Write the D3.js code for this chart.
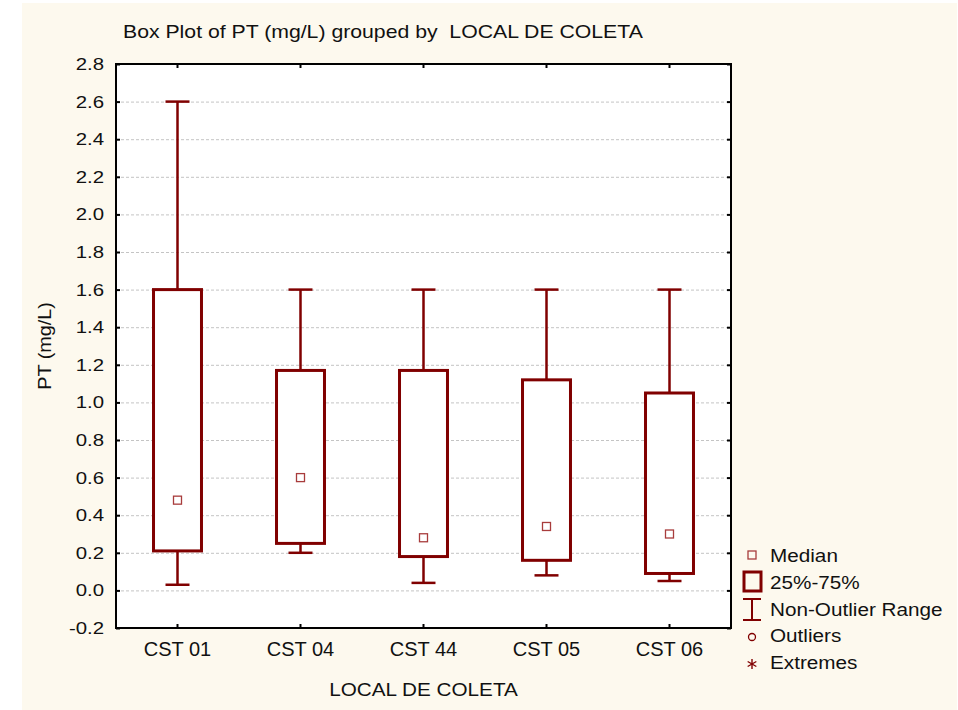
<!DOCTYPE html>
<html>
<head>
<meta charset="utf-8">
<script src="https://cdn.jsdelivr.net/npm/d3@7/dist/d3.min.js"></script>
<style>
  body { margin: 0; background: #ffffff; }
  text { font-family: "Liberation Sans", Arial, sans-serif; fill: #111; white-space: pre; }
</style>
</head>
<body>
<svg id="chart" width="958" height="710"></svg>
<script>
// values
const categories = ["CST 01", "CST 04", "CST 44", "CST 05", "CST 06"];
const minVals    = [0.03, 0.20, 0.04, 0.08, 0.05];
const q1Vals     = [0.21, 0.25, 0.18, 0.16, 0.09];
const medianVals = [0.48, 0.60, 0.28, 0.34, 0.30];
const q3Vals     = [1.60, 1.17, 1.17, 1.12, 1.05];
const maxVals    = [2.60, 1.60, 1.60, 1.60, 1.60];
const yTickVals  = [-0.2, 0.0, 0.2, 0.4, 0.6, 0.8, 1.0, 1.2, 1.4, 1.6, 1.8, 2.0, 2.2, 2.4, 2.6, 2.8];
const legendItems = ["Median", "25%-75%", "Non-Outlier Range", "Outliers", "Extremes"];

const titleText = "Box Plot of PT (mg/L) grouped by  LOCAL DE COLETA";
const xTitle = "LOCAL DE COLETA";
const yTitle = "PT (mg/L)";

const red = "#800000";
const plot = { left: 116, top: 64, right: 731, bottom: 628 };

const svg = d3.select("#chart");

// beige panel behind everything
svg.append("rect")
  .attr("x", 22).attr("y", 3)
  .attr("width", 935).attr("height", 707)
  .attr("fill", "#fdf9ee");

svg.append("rect")
  .attr("x", plot.left).attr("y", plot.top)
  .attr("width", plot.right - plot.left).attr("height", plot.bottom - plot.top)
  .attr("fill", "#ffffff");

const x = d3.scaleBand().domain(categories).range([plot.left, plot.right]).padding(0);
const y = d3.scaleLinear().domain([-0.2, 2.8]).range([plot.bottom, plot.top]);

const boxW = x.bandwidth() * 0.39;
const capW = x.bandwidth() * 0.195;
const cx = d => x(d) + x.bandwidth() / 2;

// gridlines
const grid = svg.append("g")
  .attr("transform", `translate(${plot.left},0)`)
  .call(d3.axisLeft(y).tickValues(yTickVals.slice(1, -1)).tickSize(-(plot.right - plot.left)).tickFormat(""));
grid.select(".domain").remove();
grid.selectAll("line").attr("stroke", "#c4c4c4").attr("stroke-dasharray", "3,2");

// helper for the slightly wide lettering in the original
function stretch(sel, sx) {
  sel.each(function () {
    const t = d3.select(this);
    const tx = +t.attr("x") || 0, ty = +t.attr("y") || 0;
    t.attr("x", tx / sx).attr("y", ty).attr("transform", `scale(${sx},1)`);
  });
}

// left axis with labels (plain hyphen for the minus sign, like the original)
const yAxis = svg.append("g")
  .attr("transform", `translate(${plot.left},0)`)
  .call(d3.axisLeft(y).tickValues(yTickVals).tickSize(-4).tickPadding(12).tickFormat(d => d.toFixed(1)));
yAxis.select(".domain").remove();
yAxis.selectAll("line").attr("stroke", "#000").attr("stroke-width", 2);
yAxis.selectAll("text").attr("font-size", 17).attr("fill", "#111")
  .style("font-family", "'Liberation Sans', Arial, sans-serif");
stretch(yAxis.selectAll("text"), 1.2);

// right axis ticks
const yRight = svg.append("g")
  .attr("transform", `translate(${plot.right},0)`)
  .call(d3.axisRight(y).tickValues(yTickVals).tickSize(-4).tickFormat(""));
yRight.select(".domain").remove();
yRight.selectAll("line").attr("stroke", "#000").attr("stroke-width", 2);

// bottom axis with labels
const xAxis = svg.append("g")
  .attr("transform", `translate(0,${plot.bottom})`)
  .call(d3.axisBottom(x).tickSize(-4).tickPadding(14));
xAxis.select(".domain").remove();
xAxis.selectAll("line").attr("stroke", "#000").attr("stroke-width", 2);
xAxis.selectAll("text").attr("font-size", 20).attr("fill", "#111")
  .style("font-family", "'Liberation Sans', Arial, sans-serif");

// top axis ticks
const xTop = svg.append("g")
  .attr("transform", `translate(0,${plot.top})`)
  .call(d3.axisTop(x).tickSize(-4).tickFormat(""));
xTop.select(".domain").remove();
xTop.selectAll("line").attr("stroke", "#000").attr("stroke-width", 2);

// boxes
const rows = categories.map((c, i) => ({
  cat: c, min: minVals[i], q1: q1Vals[i], med: medianVals[i], q3: q3Vals[i], max: maxVals[i]
}));

const g = svg.append("g");
const box = g.selectAll("g.box").data(rows).enter().append("g").attr("class", "box");

box.append("line") // upper whisker
  .attr("x1", d => cx(d.cat)).attr("x2", d => cx(d.cat))
  .attr("y1", d => y(d.q3)).attr("y2", d => y(d.max))
  .attr("stroke", red).attr("stroke-width", 2.5);
box.append("line") // lower whisker
  .attr("x1", d => cx(d.cat)).attr("x2", d => cx(d.cat))
  .attr("y1", d => y(d.q1)).attr("y2", d => y(d.min))
  .attr("stroke", red).attr("stroke-width", 2.5);
box.append("line")
  .attr("x1", d => cx(d.cat) - capW / 2).attr("x2", d => cx(d.cat) + capW / 2)
  .attr("y1", d => y(d.max)).attr("y2", d => y(d.max))
  .attr("stroke", red).attr("stroke-width", 2.5);
box.append("line")
  .attr("x1", d => cx(d.cat) - capW / 2).attr("x2", d => cx(d.cat) + capW / 2)
  .attr("y1", d => y(d.min)).attr("y2", d => y(d.min))
  .attr("stroke", red).attr("stroke-width", 2.5);
box.append("rect")
  .attr("x", d => cx(d.cat) - boxW / 2).attr("width", boxW)
  .attr("y", d => y(d.q3)).attr("height", d => y(d.q1) - y(d.q3))
  .attr("fill", "#ffffff").attr("stroke", red).attr("stroke-width", 3);
box.append("rect")
  .attr("x", d => cx(d.cat) - 4).attr("y", d => y(d.med) - 4)
  .attr("width", 8).attr("height", 8)
  .attr("fill", "none").attr("stroke", "#a83c3c").attr("stroke-width", 1.3);

// frame
svg.append("rect")
  .attr("x", plot.left).attr("y", plot.top)
  .attr("width", plot.right - plot.left).attr("height", plot.bottom - plot.top)
  .attr("fill", "none").attr("stroke", "#000").attr("stroke-width", 2);

// titles
svg.append("text").attr("x", 123).attr("y", 38).attr("font-size", 18).text(titleText)
  .call(s => stretch(s, 1.18));
svg.append("text").attr("x", 423.5).attr("y", 696).attr("font-size", 19)
  .attr("text-anchor", "middle").text(xTitle)
  .call(s => stretch(s, 1.09));
svg.append("text")
  .attr("transform", `translate(51,346) rotate(-90) scale(1.1,1)`)
  .attr("text-anchor", "middle").attr("font-size", 18).text(yTitle);

// legend
const lg = svg.append("g").attr("transform", "translate(752,0)");
const rowY = [557, 584, 611, 637, 664];
lg.append("rect").attr("x", -4).attr("y", rowY[0] - 6).attr("width", 8).attr("height", 8)
  .attr("fill", "none").attr("stroke", "#a83c3c").attr("stroke-width", 1.3);
lg.append("rect").attr("x", -8).attr("y", rowY[1] - 12).attr("width", 17).attr("height", 19)
  .attr("fill", "none").attr("stroke", red).attr("stroke-width", 3);
lg.append("line").attr("x1", -9).attr("x2", 9).attr("y1", rowY[2] - 12).attr("y2", rowY[2] - 12)
  .attr("stroke", red).attr("stroke-width", 2);
lg.append("line").attr("x1", -9).attr("x2", 9).attr("y1", rowY[2] + 9).attr("y2", rowY[2] + 9)
  .attr("stroke", red).attr("stroke-width", 2);
lg.append("line").attr("x1", 0).attr("x2", 0).attr("y1", rowY[2] - 12).attr("y2", rowY[2] + 9)
  .attr("stroke", red).attr("stroke-width", 2);
lg.append("circle").attr("cx", 0).attr("cy", rowY[3]).attr("r", 3.5)
  .attr("fill", "none").attr("stroke", red).attr("stroke-width", 1.3);
// asterisk drawn as three short strokes
const star = lg.append("g").attr("transform", `translate(0,${rowY[4]})`);
[90, 30, 150].forEach(a => {
  const r = 5, rad = a * Math.PI / 180;
  star.append("line")
    .attr("x1", -r * Math.cos(rad)).attr("y1", -r * Math.sin(rad))
    .attr("x2", r * Math.cos(rad)).attr("y2", r * Math.sin(rad))
    .attr("stroke", red).attr("stroke-width", 1.4);
});

lg.selectAll("text.leg").data(legendItems).enter().append("text")
  .attr("class", "leg")
  .attr("x", 18).attr("y", (d, i) => rowY[i] + 5)
  .attr("font-size", 18.5).text(d => d)
  .call(s => stretch(s, 1.12));
</script>
</body>
</html>
